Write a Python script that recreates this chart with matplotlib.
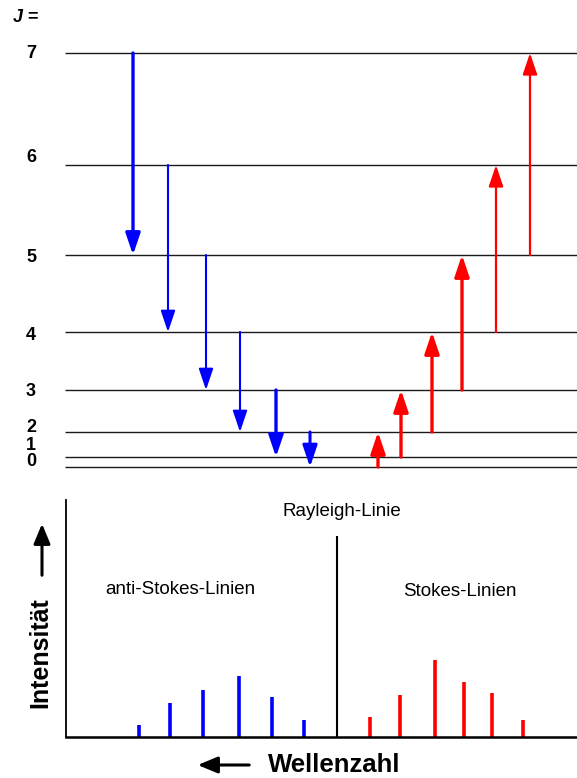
import matplotlib.pyplot as plt
from matplotlib.patches import FancyArrowPatch

plt.rcParams['font.family'] = ['Liberation Sans', 'DejaVu Sans']

# rotational levels J and their energies (arbitrary units)
J_levels = [0, 1, 2, 3, 4, 5, 6, 7]
level_energy = [0, 10, 35, 77, 135, 212, 302, 414]

# anti-Stokes (downward, blue) and Stokes (upward, red) transitions: (J_from, J_to)
anti_stokes = [(7, 5), (6, 4), (5, 3), (4, 2), (3, 1), (2, 0)]
stokes = [(0, 2), (1, 3), (2, 4), (3, 5), (4, 6), (5, 7)]

# spectrum: Raman shift (arbitrary units, Rayleigh line at 0) and intensity
anti_stokes_shift = [198, 167, 134, 98, 65, 33]
anti_stokes_int = [12, 34, 47, 61, 40, 17]
stokes_shift = [-33, -63, -98, -127, -155, -186]
stokes_int = [20, 42, 77, 55, 44, 17]
rayleigh_int = 201

W, H = 577, 778
fig = plt.figure(figsize=(W / 100, H / 100), dpi=100)

# ---- energy level diagram ----
ax = fig.add_axes([0, (H - 480) / H, 1, 480 / H])
ax.set_xlim(0, W)
ax.set_ylim(-13, 467)
ax.axis('off')

# label heights (energy units) - low levels are crowded so labels are nudged
label_y = [5, 22, 40, 75, 131, 210, 309, 414]
for j, e, ly in zip(J_levels, level_energy, label_y):
    ax.plot([65, W], [e, e], color='#1a1a1a', lw=1.0, solid_capstyle='butt')
    ax.text(31, ly, str(j), ha='center', va='center',
            fontsize=13, fontweight='bold')
ax.text(18, 450, 'J', ha='center', va='center', fontsize=13,
        fontweight='bold', fontstyle='italic')
ax.text(32, 450, '=', ha='center', va='center', fontsize=13, fontweight='bold')

anti_stokes_x = [133, 168, 206, 240, 276, 310]
stokes_x = [378, 401, 432, 462, 496, 530]
anti_stokes_lw = [2.4, 1.5, 1.5, 1.5, 2.4, 2.2]
stokes_lw = [2.4, 2.4, 2.4, 2.4, 1.6, 1.6]


def draw_arrows(trans, xs, lws, color):
    for (j0, j1), x, lw in zip(trans, xs, lws):
        ax.annotate('', xy=(x, level_energy[j1]), xytext=(x, level_energy[j0]),
                    arrowprops=dict(arrowstyle='-|>,head_length=0.65,head_width=0.22',
                                    color=color, lw=lw, shrinkA=0, shrinkB=0,
                                    mutation_scale=20))


draw_arrows(anti_stokes, anti_stokes_x, anti_stokes_lw, '#0000ff')
draw_arrows(stokes, stokes_x, stokes_lw, '#ff0000')

# ---- spectrum ----
sx = fig.add_axes([66 / W, (H - 737) / H, (W - 66) / W, (737 - 500) / H])
sx.set_xlim(337 - 66, 337 - W)
sx.set_ylim(0, 237)
for s in ['top', 'right']:
    sx.spines[s].set_visible(False)
sx.spines['left'].set_linewidth(1.3)
sx.spines['bottom'].set_linewidth(1.8)
sx.set_xticks([])
sx.set_yticks([])
sx.vlines(anti_stokes_shift, 0, anti_stokes_int, color='#0000ff', lw=2.6)
sx.vlines(stokes_shift, 0, stokes_int, color='#ff0000', lw=2.6)
sx.vlines([0], 0, rayleigh_int, color='black', lw=1.5)

fig.text(342 / W, 1 - 512 / H, 'Rayleigh-Linie', ha='center', va='center', fontsize=13.5)
fig.text(180 / W, 1 - 590 / H, 'anti-Stokes-Linien', ha='center', va='center', fontsize=13.5)
fig.text(460 / W, 1 - 592 / H, 'Stokes-Linien', ha='center', va='center', fontsize=13.5)
fig.text(40 / W, 1 - 653 / H, 'Intensität', ha='center', va='center', rotation=90,
         fontsize=18, fontweight='bold')
fig.text(334 / W, 1 - 765 / H, 'Wellenzahl', ha='center', va='center',
         fontsize=18.5, fontweight='bold')
fig.add_artist(FancyArrowPatch(
    (42 / W, 1 - 578 / H), (42 / W, 1 - 521 / H), transform=fig.transFigure,
    arrowstyle='-|>,head_length=0.6,head_width=0.25', mutation_scale=20, lw=2.2, color='black'))
fig.add_artist(FancyArrowPatch(
    (252 / W, 1 - 765 / H), (195 / W, 1 - 765 / H), transform=fig.transFigure,
    arrowstyle='-|>,head_length=0.6,head_width=0.25', mutation_scale=20, lw=2.2, color='black'))

fig.savefig('out.png', dpi=100)
